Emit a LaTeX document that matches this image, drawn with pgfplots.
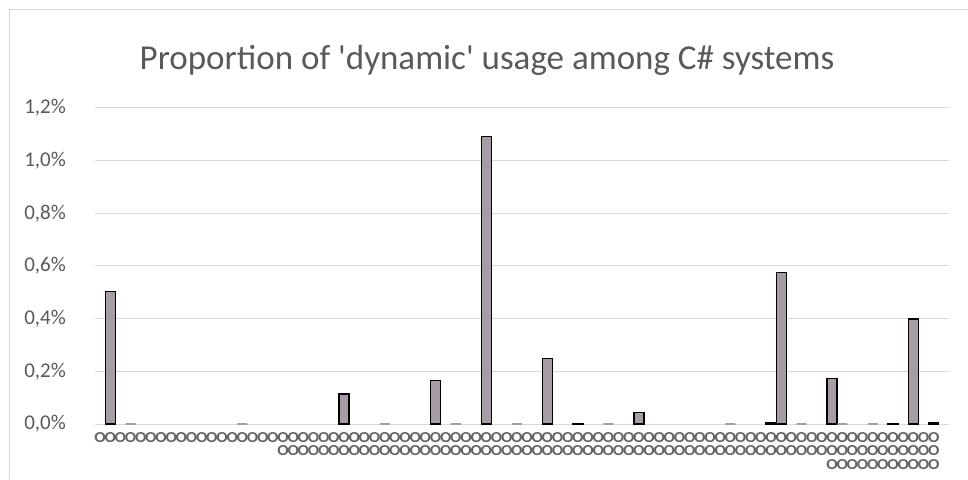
\documentclass[border=0pt]{standalone}
\usepackage{pgfplots}
\pgfplotsset{compat=1.18}
\usepackage{graphicx}
\usepackage{fontspec}
\setmainfont{Carlito}
\definecolor{barfill}{RGB}{166,156,166}
\definecolor{gridc}{RGB}{217,217,217}
\definecolor{txt}{RGB}{89,89,89}
\definecolor{circ}{RGB}{100,100,100}
\newcommand{\ci}{\scalebox{1.05}[0.95]{\bfseries O}}
\begin{document}
\begin{tikzpicture}[x=1pt,y=1pt]
\useasboundingbox (0,0) rectangle (968,479);
\draw[gridc, line width=0.8pt] (9,0) -- (9,470) -- (968,470);
\begin{axis}[
  at={(95pt,55pt)}, anchor=south west,
  width=854pt, height=316pt, scale only axis,
  xmin=-0.5, xmax=83.5, ymin=0, ymax=1.2,
  axis line style={draw=none},
  tick style={draw=none}, major tick length=0pt,
  ytick={0,0.2,0.4,0.6,0.8,1.0,1.2},
  ymajorgrids, major grid style={gridc, line width=1pt},
  /pgf/number format/assume math mode=true,
  yticklabel={\pgfmathprintnumber[fixed, fixed zerofill, precision=1, use comma]{\tick}\%},
  yticklabel style={font=\fontsize{21}{25}\selectfont, text=txt, inner sep=0pt, xshift=-29pt},
  xtick={0,...,83},
  xticklabels={\ci,\ci,\ci,\ci,\ci,\ci,\ci,\ci,\ci,\ci,\ci,\ci,\ci,\ci,\ci,\ci,\ci,\ci,
  {\ci\\\ci},{\ci\\\ci},{\ci\\\ci},{\ci\\\ci},{\ci\\\ci},{\ci\\\ci},{\ci\\\ci},{\ci\\\ci},{\ci\\\ci},{\ci\\\ci},
  {\ci\\\ci},{\ci\\\ci},{\ci\\\ci},{\ci\\\ci},{\ci\\\ci},{\ci\\\ci},{\ci\\\ci},{\ci\\\ci},{\ci\\\ci},{\ci\\\ci},
  {\ci\\\ci},{\ci\\\ci},{\ci\\\ci},{\ci\\\ci},{\ci\\\ci},{\ci\\\ci},{\ci\\\ci},{\ci\\\ci},{\ci\\\ci},{\ci\\\ci},
  {\ci\\\ci},{\ci\\\ci},{\ci\\\ci},{\ci\\\ci},{\ci\\\ci},{\ci\\\ci},{\ci\\\ci},{\ci\\\ci},{\ci\\\ci},{\ci\\\ci},
  {\ci\\\ci},{\ci\\\ci},{\ci\\\ci},{\ci\\\ci},{\ci\\\ci},{\ci\\\ci},{\ci\\\ci},{\ci\\\ci},{\ci\\\ci},{\ci\\\ci},
  {\ci\\\ci},{\ci\\\ci},{\ci\\\ci},{\ci\\\ci},
  {\ci\\\ci\\\ci},{\ci\\\ci\\\ci},{\ci\\\ci\\\ci},{\ci\\\ci\\\ci},{\ci\\\ci\\\ci},{\ci\\\ci\\\ci},
  {\ci\\\ci\\\ci},{\ci\\\ci\\\ci},{\ci\\\ci\\\ci},{\ci\\\ci\\\ci},{\ci\\\ci\\\ci},{}},
  xticklabel style={font=\fontsize{16}{13.3}\selectfont, text=circ, align=center, anchor=north, inner sep=0pt, yshift=-8.5pt},
  ybar, bar width=10pt,
]
\addplot[ybar, bar shift=0pt, fill=barfill, draw=black, line width=1.3pt] coordinates {
  (1,0.504) (24,0.114) (33,0.165) (38,1.093) (44,0.248) (47,0.002) (53,0.045)
  (66,0.004) (67,0.574) (72,0.174) (78,0.003) (80,0.399) (82,0.004)
};
\addplot[ybar, bar shift=0pt, fill=none, draw=gray!75, line width=1.4pt] coordinates {
  (3,0) (14,0) (28,0) (35,0) (41,0) (50,0) (62,0) (69,0) (73,0) (76,0)
};
\end{axis}
\node[font=\fontsize{35}{42}\selectfont, text=txt] at (487,419) {Proportion of \textquotesingle dynamic\textquotesingle\ usage among C\# systems};
\end{tikzpicture}
\end{document}
